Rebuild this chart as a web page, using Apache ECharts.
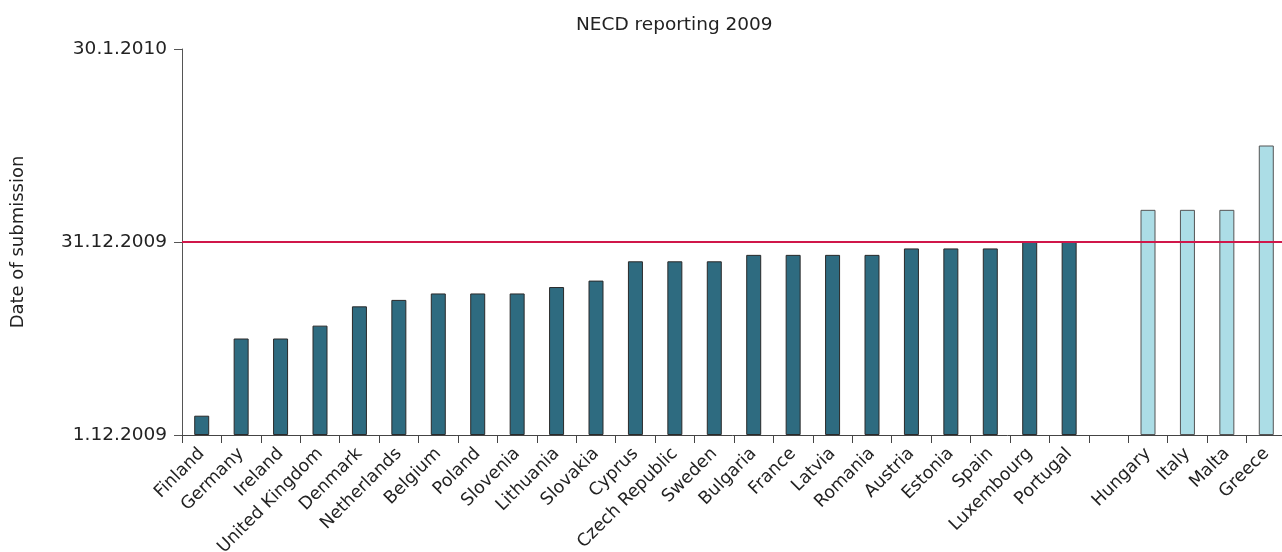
<!DOCTYPE html>
<html><head><meta charset="utf-8">
<script src="https://cdn.jsdelivr.net/npm/echarts@6/dist/echarts.min.js"></script>
<style>html,body{margin:0;padding:0;background:#fff}#c{width:1282px;height:552px}</style>
</head><body><div id="c"></div>
<script>
const categories = ['Finland','Germany','Ireland','United Kingdom','Denmark','Netherlands','Belgium','Poland','Slovenia','Lithuania','Slovakia','Cyprus','Czech Republic','Sweden','Bulgaria','France','Latvia','Romania','Austria','Estonia','Spain','Luxembourg','Portugal','','Hungary','Italy','Malta','Greece'];
// days after 1.12.2009
const onTime = [3,15,15,17,20,21,22,22,22,23,24,27,27,27,28,28,28,28,29,29,29,30,30,null,null,null,null,null];
const late = [null,null,null,null,null,null,null,null,null,null,null,null,null,null,null,null,null,null,null,null,null,null,null,null,35,35,35,45];
const tickLabels = {0:'1.12.2009',30:'31.12.2009',60:'30.1.2010'};
const deadline = 30;

const font = 'DejaVu Sans, Verdana, sans-serif';
const chart = echarts.init(document.getElementById('c'));
chart.setOption({
  animation:false,
  title:{text:'NECD reporting 2009',left:571,top:11,textStyle:{fontFamily:font,fontSize:18.5,fontWeight:'normal',color:'#222'}},
  grid:{left:182,right:-4,top:49,bottom:117,containLabel:false,outerBoundsMode:'none'},
  xAxis:{type:'category',data:categories,boundaryGap:true,
    axisLine:{lineStyle:{color:'#444',width:1}},
    axisTick:{show:true,alignWithLabel:false,length:8,lineStyle:{color:'#444'}},
    axisLabel:{rotate:45,interval:0,fontFamily:font,fontSize:17.5,color:'#222',margin:16}},
  yAxis:{type:'value',min:0,max:60,interval:30,
    name:'Date of submission',nameLocation:'middle',nameGap:155,nameRotate:90,
    nameTextStyle:{fontFamily:font,fontSize:18,color:'#222'},
    axisLine:{show:true,lineStyle:{color:'#555',width:1}},
    axisTick:{show:true,length:8,lineStyle:{color:'#555'}},
    splitLine:{show:false},
    axisLabel:{fontFamily:font,fontSize:18.5,color:'#222',margin:15,formatter:v=>tickLabels[v]||''}},
  series:[
    {type:'bar',data:onTime,barWidth:15,barGap:'-100%',
     itemStyle:{color:'#2e6b80',borderColor:'#2a2a2a',borderWidth:1},
     markLine:{silent:true,symbol:'none',label:{show:false},
       lineStyle:{color:'#d0174a',width:2,type:'solid'},data:[{yAxis:deadline}]}},
    {type:'bar',data:late,barWidth:15,barGap:'-100%',
     itemStyle:{color:'#acdde6',borderColor:'#555',borderWidth:1}}
  ]
});
</script></body></html>
